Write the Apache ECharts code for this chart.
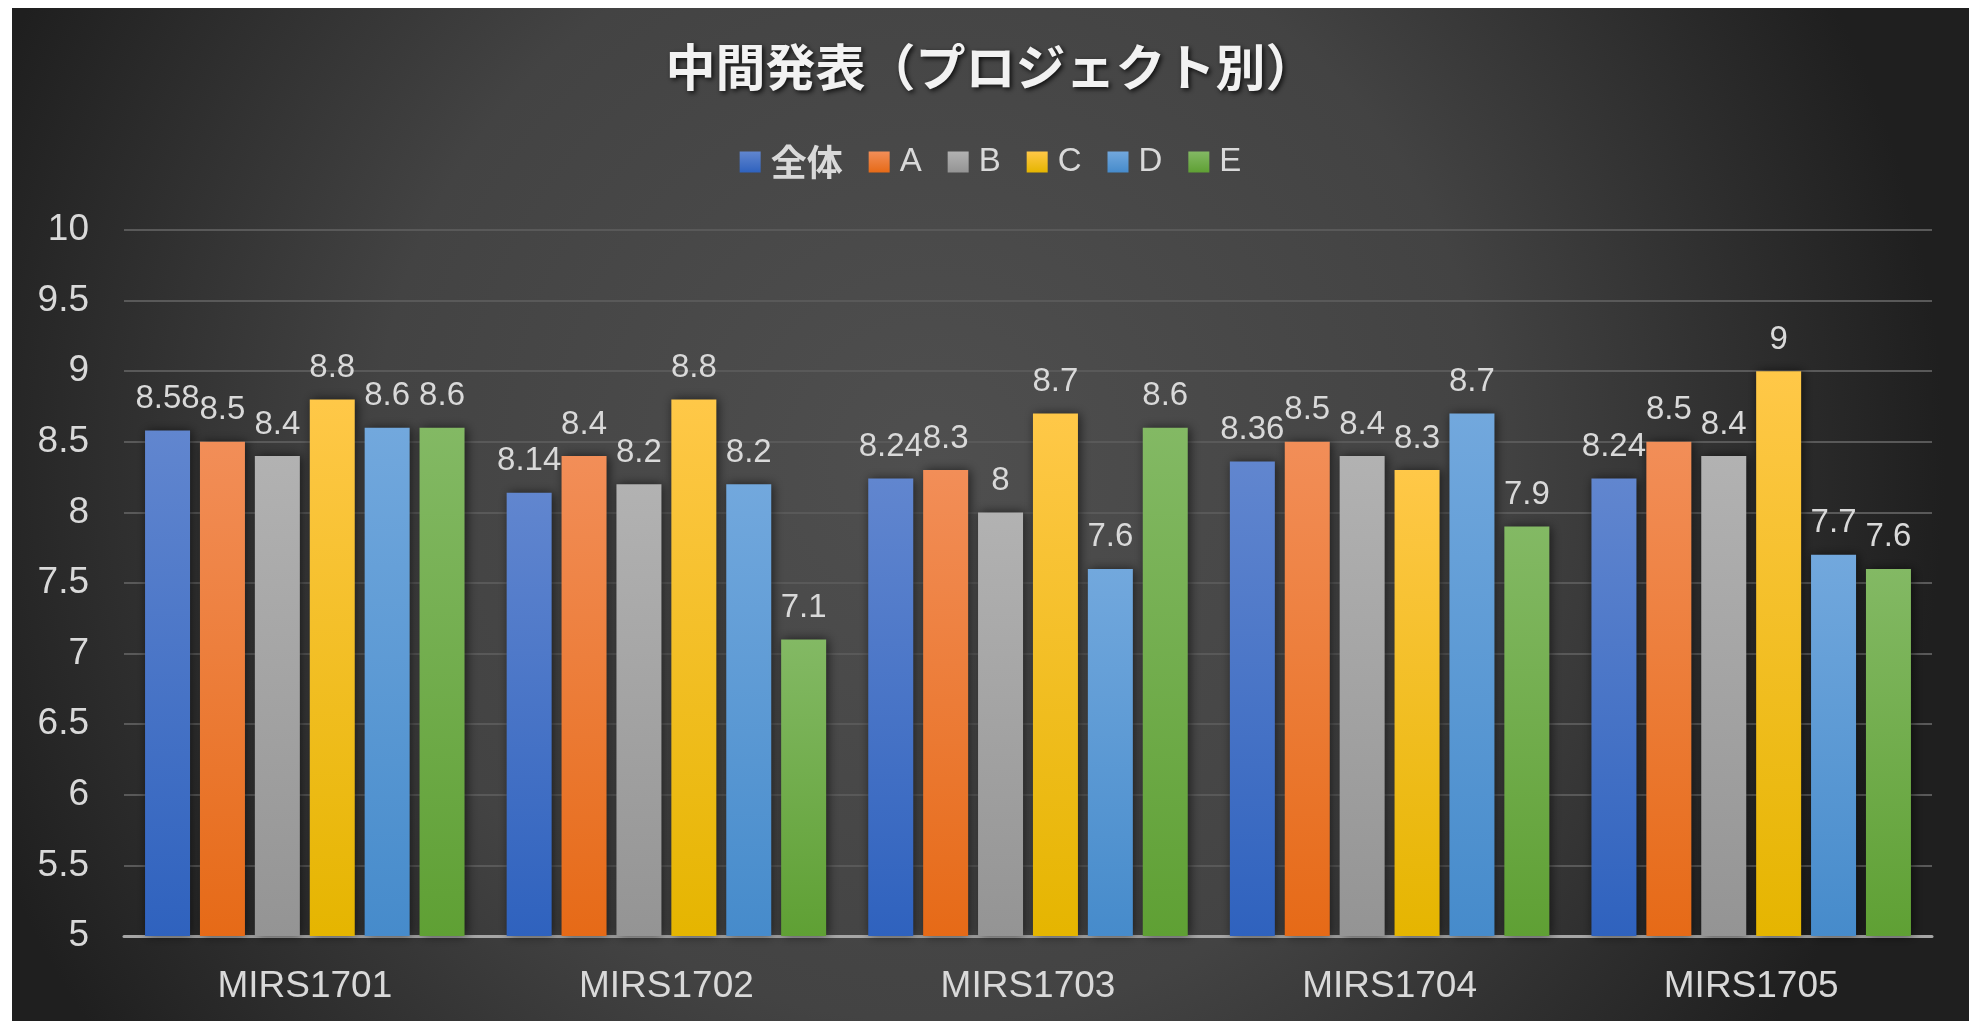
<!DOCTYPE html>
<html>
<head>
<meta charset="utf-8">
<script src="https://cdn.jsdelivr.net/npm/echarts@6/dist/echarts.min.js"></script>
<style>
  html, body { margin: 0; padding: 0; background: #ffffff; }
  #chart { position: absolute; left: 12px; top: 8px; width: 1957px; height: 1013px; }
</style>
</head>
<body>
<div id="chart"></div>
<script>
// 中間発表（プロジェクト別）
var categories = ['MIRS1701', 'MIRS1702', 'MIRS1703', 'MIRS1704', 'MIRS1705'];
var seriesNames = ['全体', 'A', 'B', 'C', 'D', 'E'];
var zentai = [8.58, 8.14, 8.24, 8.36, 8.24];
var teamA = [8.5, 8.4, 8.3, 8.5, 8.5];
var teamB = [8.4, 8.2, 8.0, 8.4, 8.4];
var teamC = [8.8, 8.8, 8.7, 8.3, 9.0];
var teamD = [8.6, 8.2, 7.6, 8.7, 7.7];
var teamE = [8.6, 7.1, 8.6, 7.9, 7.6];
var yTicks = [5, 5.5, 6, 6.5, 7, 7.5, 8, 8.5, 9, 9.5, 10];

var seriesData = [zentai, teamA, teamB, teamC, teamD, teamE];
// top / bottom colour of each bar gradient
var barColors = [
  ['#6186cf', '#2f62be'],
  ['#f28e58', '#e66a17'],
  ['#b2b2b2', '#949494'],
  ['#ffc848', '#e5b500'],
  ['#72a8dd', '#468bcb'],
  ['#83b964', '#5fa034']
];

var myChart = echarts.init(document.getElementById('chart'));
var font = '"Liberation Sans", Arial, "Noto Sans CJK JP", sans-serif';

var series = seriesNames.map(function (name, i) {
  return {
    name: name,
    type: 'bar',
    data: seriesData[i],
    barWidth: 45,
    barGap: '22%',
    itemStyle: {
      color: new echarts.graphic.LinearGradient(0, 0, 0, 1, [
        { offset: 0, color: barColors[i][0] },
        { offset: 1, color: barColors[i][1] }
      ]),
      shadowColor: 'rgba(0,0,0,0.6)',
      shadowBlur: 10,
      shadowOffsetX: 2,
      shadowOffsetY: 0
    },
    label: {
      show: true,
      position: 'top',
      distance: 15,
      color: '#d9d9d9',
      fontSize: 33,
      fontFamily: font
    }
  };
});

var option = {
  animation: false,
  backgroundColor: {
    type: 'radial',
    x: 0.47, y: 0.45, r: 1.0,
    colorStops: [
      { offset: 0, color: '#4f4f4f' },
      { offset: 0.55, color: '#434343' },
      { offset: 1, color: '#1f1f1f' }
    ]
  },
  title: {
    text: '中間発表（プロジェクト別）',
    left: 'center',
    top: 29,
    textStyle: {
      color: '#f2f2f2',
      fontSize: 50,
      fontWeight: 'bold',
      fontFamily: '"Noto Sans CJK JP", sans-serif',
      textShadowColor: 'rgba(0,0,0,0.8)',
      textShadowBlur: 5,
      textShadowOffsetX: 2,
      textShadowOffsetY: 2
    }
  },
  legend: {
    data: seriesNames,
    top: 131,
    left: 'center',
    itemWidth: 21,
    itemHeight: 21,
    itemGap: 26,
    icon: 'rect',
    formatter: function (name) {
      return name === '全体' ? '{b|' + name + '}' : name;
    },
    textStyle: {
      color: '#d9d9d9',
      fontSize: 33,
      fontFamily: font,
      padding: [0, 0, 0, 5],
      rich: {
        b: { color: '#d9d9d9', fontSize: 36, fontWeight: 'bold', fontFamily: '"Noto Sans CJK JP", sans-serif' }
      }
    }
  },
  grid: {
    left: 112,
    right: 37,
    top: 222,
    bottom: 85
  },
  xAxis: {
    type: 'category',
    data: categories,
    axisTick: { show: false },
    axisLine: { lineStyle: { color: '#a6a6a6', width: 3 } },
    axisLabel: {
      color: '#d9d9d9',
      fontSize: 37,
      fontFamily: font,
      margin: 32
    }
  },
  yAxis: {
    type: 'value',
    min: yTicks[0],
    max: yTicks[yTicks.length - 1],
    interval: 0.5,
    axisLine: { show: false },
    axisTick: { show: false },
    splitLine: { lineStyle: { color: '#595959', width: 2 } },
    axisLabel: {
      color: '#d9d9d9',
      fontSize: 37,
      fontFamily: font,
      margin: 35,
      padding: [6, 0, 0, 0]
    }
  },
  series: series
};

option && myChart.setOption(option);
</script>
</body>
</html>
